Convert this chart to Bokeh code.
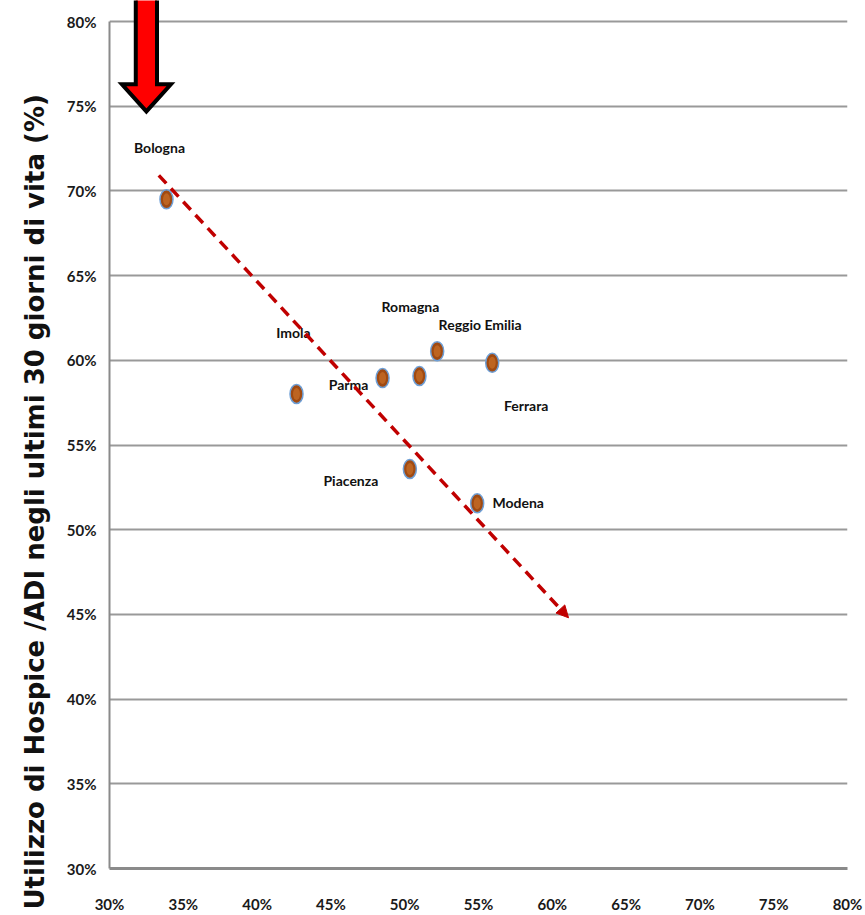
from bokeh.plotting import figure
from bokeh.models import (ColumnDataSource, FixedTicker, NumeralTickFormatter, LinearAxis,
                          Range1d, Title, Arrow, NormalHead)
from bokeh.core.properties import value
from bokeh.embed import file_html
from bokeh.resources import INLINE

# Territorial areas and their two indicators (fractions)
areas = ["Bologna", "Imola", "Parma", "Romagna", "Reggio Emilia", "Ferrara", "Piacenza", "Modena"]
x_values = [0.3386, 0.4267, 0.4850, 0.5100, 0.5220, 0.5593, 0.5035, 0.5491]
y_values = [0.6950, 0.5801, 0.5895, 0.5907, 0.6054, 0.5985, 0.5358, 0.5156]

# Trend direction (start / end of the dashed arrow)
trend_x = [0.3334, 0.6110]
trend_y = [0.7092, 0.4480]

tick_values = [0.30, 0.35, 0.40, 0.45, 0.50, 0.55, 0.60, 0.65, 0.70, 0.75, 0.80]

y_title = "Utilizzo di Hospice /ADI negli ultimi 30 giorni di vita (%)"

# label placement, in pixels relative to each point
label_dx = [-7, -3, -34, -9, 43, 34, -59, 41]
label_dy = [-52, -62, 6, -70, -27, 43, 11, -1]

FONT = "Lato"

p = figure(width=865, height=915, output_backend="svg", toolbar_location=None,
           x_range=Range1d(0.30, 0.80), y_range=Range1d(0.30, 0.8124),
           min_border_left=109, min_border_right=18, min_border_top=0, min_border_bottom=46,
           x_axis_location=None, y_axis_location=None)
p.outline_line_color = None
p.background_fill_color = "white"
p.border_fill_color = "white"

yaxis = LinearAxis(ticker=FixedTicker(ticks=tick_values), formatter=NumeralTickFormatter(format="0%"),
                   bounds=(0.30, 0.80))
yaxis.axis_line_color = "#8a8a8a"
yaxis.axis_line_width = 2
yaxis.major_tick_line_color = None
yaxis.minor_tick_line_color = None
yaxis.major_tick_out = 0
yaxis.major_tick_in = 0
yaxis.major_label_standoff = 13
yaxis.major_label_text_font = FONT
yaxis.major_label_text_font_style = "bold"
yaxis.major_label_text_font_size = "15px"
yaxis.major_label_text_color = "#1a1a1a"
p.add_layout(yaxis, "left")

xaxis = LinearAxis(ticker=FixedTicker(ticks=tick_values), formatter=NumeralTickFormatter(format="0%"),
                   bounds=(0.30, 0.80))
xaxis.axis_line_color = "#8a8a8a"
xaxis.axis_line_width = 3
xaxis.major_tick_line_color = None
xaxis.minor_tick_line_color = None
xaxis.major_tick_out = 0
xaxis.major_tick_in = 0
xaxis.major_label_standoff = 26
xaxis.major_label_text_font = FONT
xaxis.major_label_text_font_style = "bold"
xaxis.major_label_text_font_size = "15px"
xaxis.major_label_text_color = "#1a1a1a"
p.add_layout(xaxis, "below")

p.xgrid.visible = False
p.ygrid.ticker = FixedTicker(ticks=tick_values)
p.ygrid.grid_line_color = "#999999"
p.ygrid.grid_line_width = 2
p.ygrid.bounds = (0.30, 0.80)

# Vertical title on the left side, starting near the bottom edge
p.add_layout(Title(text=y_title, align="left", offset=-41, standoff=26, vertical_align="middle",
                   text_font="DejaVu Sans", text_font_style="bold",
                   text_font_size="26px", text_color="#111111"), "left")

# Large downward red arrow
ax_c, tip, base, top = 0.325, 0.7469, 0.7629, 0.83
sw, hw = 0.0072, 0.0166
p.patch(x=[ax_c - sw, ax_c - sw, ax_c - hw, ax_c, ax_c + hw, ax_c + sw, ax_c + sw],
        y=[top, base, base, tip, base, base, top],
        fill_color="#ff0000", line_color="black", line_width=4, line_join="miter")

# Dashed trend arrow
p.add_layout(Arrow(x_start=trend_x[0], y_start=trend_y[0], x_end=trend_x[1], y_end=trend_y[1],
                   line_color="#c00000", line_width=3.5, line_dash="11 7",
                   end=NormalHead(size=12, fill_color="#c00000", line_color="#c00000", line_width=1)))

src = ColumnDataSource(dict(x=x_values, y=y_values, name=areas, dx=label_dx, dy=label_dy))

# Bead-like markers
p.ellipse(x="x", y="y", width=13, height=19, width_units="screen", height_units="screen",
          source=src, fill_color="#a04a12", line_color="#6e9fd6", line_width=1.5)
p.ellipse(x="x", y="y", width=7, height=12, width_units="screen", height_units="screen",
          source=src, fill_color="#d0762c", fill_alpha=0.6, line_color=None)

p.text(x="x", y="y", text="name", x_offset="dx", y_offset="dy", source=src,
       text_align="center", text_baseline="middle", text_font=value(FONT),
       text_font_style="bold", text_font_size="14px", text_color="#111111")

open("out.html", "w").write(file_html(p, INLINE))
